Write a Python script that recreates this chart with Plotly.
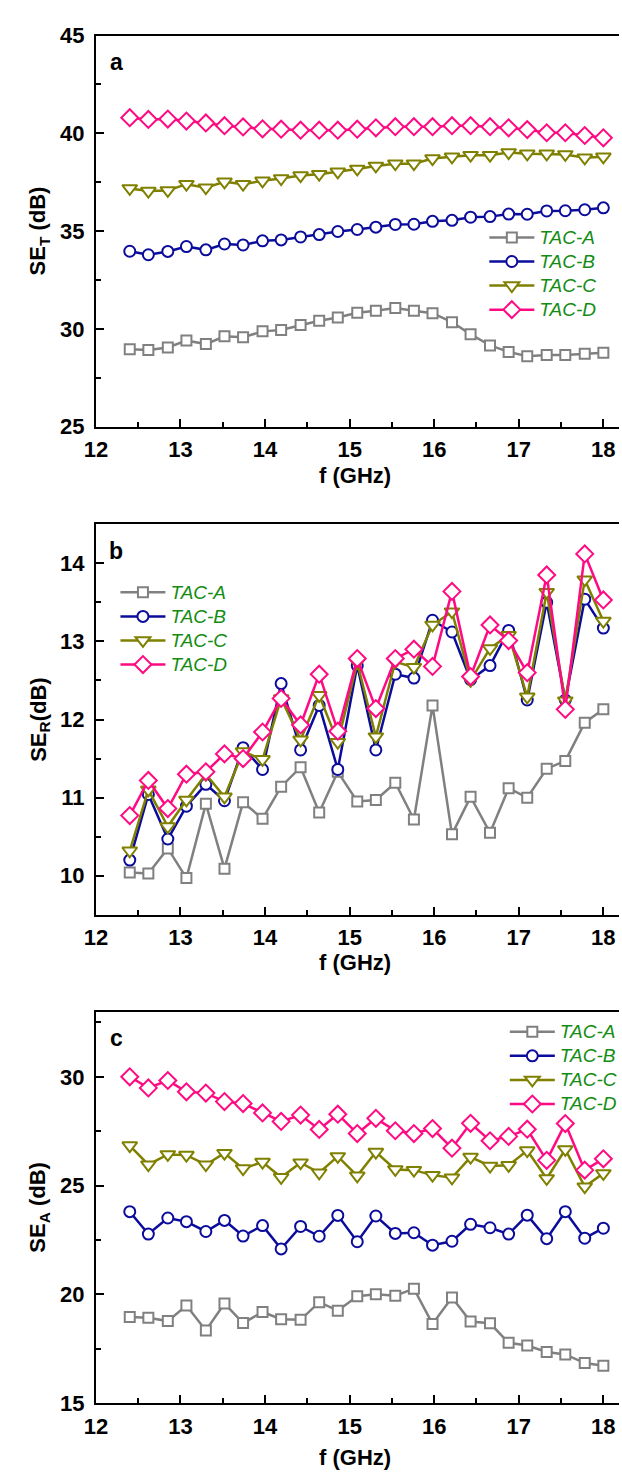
import plotly.graph_objects as go

# Frequency sweep (GHz)
freq = [12.4, 12.62, 12.85, 13.07, 13.3, 13.52, 13.74, 13.97, 14.19, 14.42,
        14.64, 14.86, 15.09, 15.31, 15.54, 15.76, 15.98, 16.21, 16.43, 16.66,
        16.88, 17.1, 17.33, 17.55, 17.78, 18.0]

samples = ["TAC-A", "TAC-B", "TAC-C", "TAC-D"]

# (a) total shielding effectiveness SE_T (dB)
se_t_a = [28.95, 28.92, 29.05, 29.40, 29.22, 29.62, 29.57, 29.87, 29.94, 30.19,
          30.41, 30.58, 30.82, 30.93, 31.07, 30.93, 30.80, 30.34, 29.72, 29.15,
          28.82, 28.60, 28.66, 28.66, 28.73, 28.78]
se_t_b = [33.97, 33.79, 33.96, 34.21, 34.04, 34.34, 34.29, 34.50, 34.55, 34.70,
          34.82, 34.98, 35.08, 35.20, 35.34, 35.35, 35.50, 35.55, 35.71, 35.74,
          35.87, 35.86, 36.03, 36.04, 36.09, 36.19]
se_t_c = [37.18, 37.05, 37.08, 37.40, 37.22, 37.52, 37.40, 37.57, 37.69, 37.84,
          37.91, 38.03, 38.18, 38.33, 38.45, 38.45, 38.71, 38.80, 38.88, 38.88,
          39.02, 38.95, 38.95, 38.92, 38.75, 38.80]
se_t_d = [40.80, 40.71, 40.73, 40.63, 40.53, 40.39, 40.33, 40.23, 40.21, 40.16,
          40.16, 40.16, 40.21, 40.28, 40.34, 40.34, 40.34, 40.39, 40.39, 40.34,
          40.28, 40.19, 40.03, 40.03, 39.89, 39.77]

# (b) reflection loss SE_R (dB)
se_r_a = [10.04, 10.03, 10.35, 9.97, 10.92, 10.09, 10.94, 10.73, 11.14, 11.39,
          10.81, 11.33, 10.95, 10.97, 11.19, 10.72, 12.18, 10.53, 11.01, 10.55,
          11.12, 11.00, 11.37, 11.47, 11.96, 12.13]
se_r_b = [10.20, 11.04, 10.47, 10.89, 11.17, 10.96, 11.64, 11.36, 12.46, 11.61,
          12.18, 11.36, 12.69, 11.61, 12.58, 12.53, 13.27, 13.12, 12.51, 12.69,
          13.14, 12.25, 13.50, 12.25, 13.54, 13.17]
se_r_c = [10.32, 11.10, 10.63, 10.97, 11.30, 11.01, 11.59, 11.49, 12.27, 11.74,
          12.31, 11.71, 12.73, 11.78, 12.74, 12.67, 13.21, 13.38, 12.50, 12.91,
          13.08, 12.29, 13.63, 12.24, 13.79, 13.26]
se_r_d = [10.77, 11.22, 10.86, 11.30, 11.33, 11.56, 11.50, 11.84, 12.27, 11.93,
          12.58, 11.85, 12.78, 12.14, 12.78, 12.90, 12.68, 13.64, 12.55, 13.21,
          13.01, 12.60, 13.85, 12.13, 14.12, 13.53]

# (c) absorption loss SE_A (dB)
se_a_a = [18.96, 18.92, 18.77, 19.49, 18.34, 19.58, 18.68, 19.19, 18.86, 18.83,
          19.64, 19.25, 19.91, 20.00, 19.94, 20.26, 18.64, 19.85, 18.75, 18.67,
          17.77, 17.65, 17.35, 17.24, 16.84, 16.72]
se_a_b = [23.80, 22.77, 23.51, 23.34, 22.89, 23.40, 22.68, 23.16, 22.09, 23.12,
          22.67, 23.63, 22.42, 23.60, 22.80, 22.83, 22.26, 22.44, 23.22, 23.06,
          22.77, 23.64, 22.56, 23.80, 22.58, 23.04]
se_a_c = [26.84, 25.96, 26.43, 26.40, 25.96, 26.49, 25.78, 26.08, 25.38, 26.05,
          25.59, 26.34, 25.45, 26.54, 25.74, 25.71, 25.48, 25.36, 26.31, 25.90,
          25.93, 26.61, 25.33, 26.66, 24.95, 25.56]
se_a_d = [30.00, 29.49, 29.83, 29.31, 29.25, 28.86, 28.77, 28.34, 27.95, 28.24,
          27.58, 28.28, 27.39, 28.09, 27.52, 27.39, 27.62, 26.72, 27.86, 27.06,
          27.26, 27.59, 26.16, 27.85, 25.71, 26.23]

W, H = 622, 1481
FONT = "Liberation Sans, Arial, sans-serif"
LEGEND_GREEN = "#148c14"

style = {
    "TAC-A": dict(color="#808080", symbol="square", size=10),
    "TAC-B": dict(color="#0c0c9c", symbol="circle", size=11),
    "TAC-C": dict(color="#808000", symbol="triangle-down", size=13),
    "TAC-D": dict(color="#ff0a82", symbol="diamond", size=13),
}


def py(px):
    """pixel row -> paper fraction"""
    return 1 - px / H


def pxx(px):
    return px / W


X_LEFT = 86
panels = [
    dict(series=[se_t_a, se_t_b, se_t_c, se_t_d], top=24, bottom=421.7,
         yrange=[25, 45], dtick=5, tick0=25, minor=2.5, label="a",
         ytitle="SE<sub>T</sub> (dB)", xtitle_y=471,
         legend=dict(x=484, y=212)),
    dict(series=[se_r_a, se_r_b, se_r_c, se_r_d], top=521, bottom=918.3,
         yrange=[9.5, 14.5], dtick=1, tick0=10, minor=0.5, label="b",
         ytitle="SE<sub>R</sub>(dB)", xtitle_y=967,
         legend=dict(x=106, y=573)),
    dict(series=[se_a_a, se_a_b, se_a_c, se_a_d], top=1016.7, bottom=1415,
         yrange=[15, 33], dtick=5, tick0=15, minor=2.5, label="c",
         ytitle="SE<sub>A</sub> (dB)", xtitle_y=1470,
         legend=dict(x=505, y=1020)),
]

fig = go.Figure()
layout = dict(
    width=W, height=H,
    margin=dict(l=0, r=0, t=0, b=0),
    paper_bgcolor="white", plot_bgcolor="white",
    font=dict(family=FONT, color="black"),
    showlegend=True,
    annotations=[],
)

tick_font = dict(family=FONT, size=22, color="black", weight="bold")
title_font = dict(family=FONT, size=22, color="black", weight="bold")

for i, p in enumerate(panels):
    n = "" if i == 0 else str(i + 1)
    xa, ya = "x" + n, "y" + n
    leg = "legend" + n
    for name, vals in zip(samples, p["series"]):
        s = style[name]
        fig.add_trace(go.Scatter(
            x=freq, y=vals, xaxis=xa, yaxis=ya, legend=leg,
            name='<span style="font-size:19px">%s</span>' % name,
            mode="lines+markers",
            line=dict(color=s["color"], width=2.5),
            marker=dict(symbol=s["symbol"], size=s["size"], color="white",
                        line=dict(color=s["color"], width=2)),
        ))
    ydom = [py(p["bottom"]), py(p["top"])]
    layout["xaxis" + n] = dict(
        domain=[pxx(X_LEFT), 1], range=[12, 18.185], anchor=ya,
        tickvals=[12, 13, 14, 15, 16, 17, 18], ticks="inside", ticklen=8,
        tickwidth=2, tickcolor="black", showline=True, linewidth=2,
        linecolor="black", mirror=True, showgrid=False, zeroline=False,
        tickfont=tick_font, ticklabelstandoff=2,
        minor=dict(dtick=0.5, tick0=12, ticks="inside", ticklen=5,
                   tickwidth=2, tickcolor="black", showgrid=False),
    )
    layout["yaxis" + n] = dict(
        domain=ydom, range=p["yrange"], anchor=xa, dtick=p["dtick"],
        tick0=p["tick0"], ticks="inside", ticklen=8, tickwidth=2,
        tickcolor="black", showline=True, linewidth=2, linecolor="black",
        showgrid=False, zeroline=False, tickfont=tick_font,
        ticklabelstandoff=5,
        minor=dict(dtick=p["minor"], tick0=p["tick0"], ticks="inside",
                   ticklen=5, tickwidth=2, tickcolor="black",
                   showgrid=False),
    )
    # line height follows the 16px legend font so rows sit 24px apart
    layout[leg] = dict(
        x=pxx(p["legend"]["x"]), y=py(p["legend"]["y"]),
        xanchor="left", yanchor="top", bgcolor="rgba(0,0,0,0)",
        borderwidth=0, tracegroupgap=0, itemwidth=45,
        font=dict(family=FONT, size=16.2, color=LEGEND_GREEN,
                  style="italic"),
    )
    # panel letter
    layout["annotations"].append(dict(
        text=p["label"], xref="paper", yref="paper",
        x=pxx(107), y=py(p["top"] + 27), xanchor="center", yanchor="middle",
        showarrow=False, font=dict(family=FONT, size=23, weight="bold"),
    ))
    # axis titles
    layout["annotations"].append(dict(
        text="f (GHz)", xref="paper", yref="paper",
        x=pxx(351), y=py(p["xtitle_y"]),
        xanchor="center", yanchor="middle", showarrow=False,
        font=title_font,
    ))
    layout["annotations"].append(dict(
        text=p["ytitle"], xref="paper", yref="paper",
        x=pxx(28), y=py((p["top"] + p["bottom"]) / 2), textangle=-90,
        xanchor="center", yanchor="middle", showarrow=False,
        font=title_font,
    ))

fig.update_layout(**layout)
fig.write_html("out.html")
